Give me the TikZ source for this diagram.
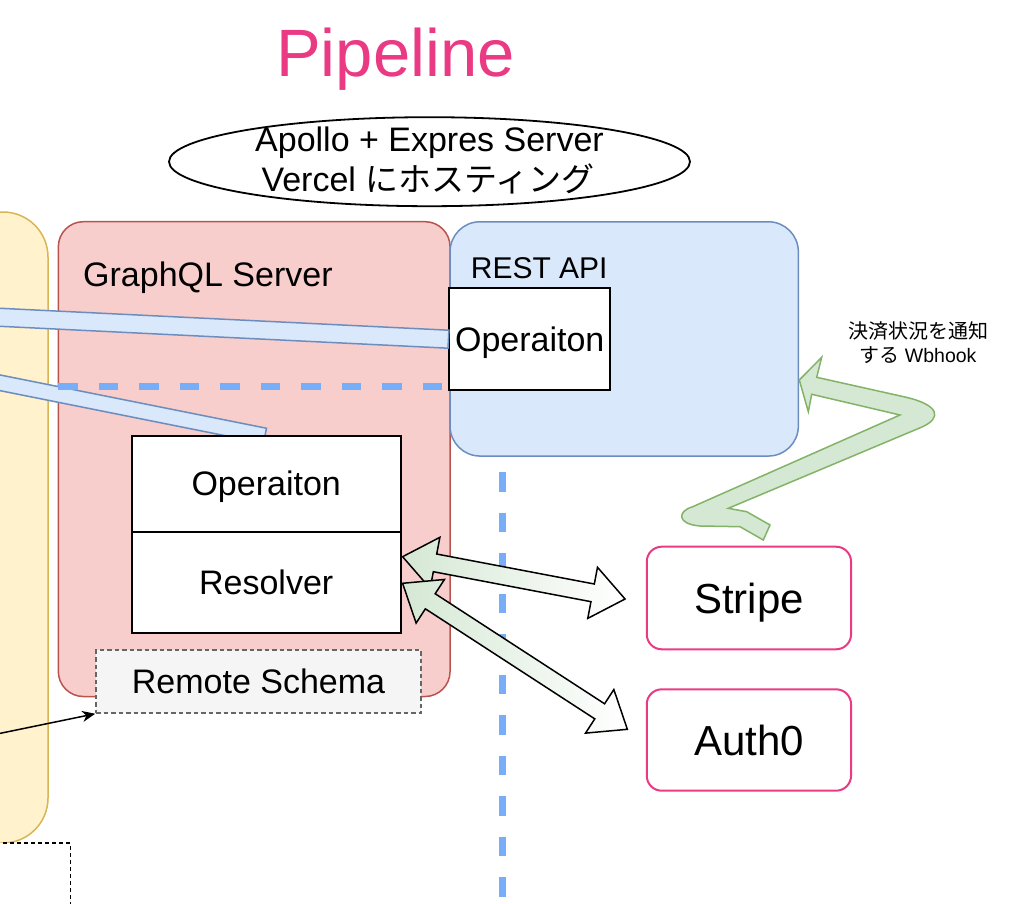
\documentclass[tikz,border=0pt]{standalone}
\usepackage{fontspec}
\setmainfont{Liberation Sans}
\newfontfamily\cjk{Noto Sans CJK JP}
\usetikzlibrary{calc,arrows.meta,shapes.geometric}
\definecolor{pinkT}{RGB}{234,58,132}
\definecolor{yelF}{HTML}{FFF2CC}
\definecolor{yelS}{HTML}{D6B656}
\definecolor{redF}{HTML}{F8CECC}
\definecolor{redS}{HTML}{B85450}
\definecolor{bluF}{HTML}{DAE8FC}
\definecolor{bluS}{HTML}{6C8EBF}
\definecolor{dashB}{RGB}{120,174,248}
\definecolor{grnF}{HTML}{D5E8D4}
\definecolor{grnS}{HTML}{82B366}
\definecolor{grayF}{HTML}{F5F5F5}
\definecolor{grayS}{HTML}{666666}
\newcommand\flatband[3]{%
  \filldraw[band] ($(#1)!#3!90:(#2)$) -- ($(#2)!#3!-90:(#1)$) -- ($(#2)!#3!90:(#1)$) -- ($(#1)!#3!-90:(#2)$) -- cycle;}
\newcommand\flatdbl[2]{%
  \coordinate (fa1) at ($(#1)!33pt!(#2)$);
  \coordinate (fb1) at ($(#2)!33pt!(#1)$);
  \path[dblarr] (#1) -- ($(fa1)!26pt!90:(#2)$) -- ($(fa1)!9pt!90:(#2)$) -- ($(fb1)!9pt!-90:(#1)$) -- ($(fb1)!26pt!-90:(#1)$) -- (#2) -- ($(fb1)!26pt!90:(#1)$) -- ($(fb1)!9pt!90:(#1)$) -- ($(fa1)!9pt!-90:(#2)$) -- ($(fa1)!26pt!-90:(#2)$) -- cycle;}
\begin{document}
\begin{tikzpicture}[x=1pt,y=-1pt,
  box/.style={draw=black, line width=1.8pt, fill=white, inner sep=0pt},
  cont/.style={draw, line width=1.5pt, inner sep=0pt},
  t33/.style={font=\fontsize{34}{40}\selectfont, text height=24.3pt, text depth=0pt},
  t41/.style={font=\fontsize{42}{48}\selectfont, text height=30.1pt, text depth=0pt},
  band/.style={draw=bluS, fill=bluF, line width=1.5pt},
  dblarr/.style={draw=black, line width=1.5pt, left color=grnF, right color=white},
  wh/.style={draw=grnS, fill=grnF, line width=1.5pt},
  dashln/.style={draw=dashB, line width=6.5pt, dash pattern=on 19.5pt off 21pt},
  svc/.style={draw=pinkT, line width=2pt, fill=white, rounded corners=15pt, inner sep=0pt, minimum width=204.3pt}
]
\useasboundingbox (0,0) rectangle (1014,904);
\clip (0,0) rectangle (1014,904);

% title
\node[anchor=base, text=pinkT, font=\fontsize{67}{72}\selectfont, inner sep=0pt] (title) at (395.5,77) {Pipeline};

% ellipse
\node[ellipse, draw=black, line width=1.8pt, minimum width=521pt, minimum height=89pt, inner sep=0pt] (ell) at (429.5,161.7) {};
\node[anchor=base, inner sep=0pt, font=\fontsize{34}{40}\selectfont] (ellt1) at (429.5,152) {Apollo + Expres Server};
\node[anchor=base, inner sep=0pt, font=\fontsize{34}{40}\selectfont] (ellt2) at (428,192) {Vercel {\cjk\fontsize{33}{40}\selectfont にホスティング}};

% containers
\node[cont, draw=yelS, fill=yelF, rounded corners=45pt, minimum width=108pt, minimum height=631pt] (yel) at (-6,527.5) {};
\node[draw=black, line width=1.8pt, dash pattern=on 4pt off 3pt, fill=white, inner sep=0pt, minimum width=120.5pt, minimum height=116.7pt] (dot) at (10.25,901.7) {};
\node[cont, draw=redS, fill=redF, rounded corners=25pt, minimum width=391.7pt, minimum height=474.8pt] (gql) at (254.2,459.1) {};
\node[cont, draw=bluS, fill=bluF, rounded corners=30pt, minimum width=348.3pt, minimum height=234.3pt] (rest) at (624.2,338.9) {};
\node[anchor=base west, inner sep=0pt, font=\fontsize{34}{40}\selectfont] (gqlt) at (83,286) {GraphQL Server};
\node[anchor=base west, inner sep=0pt, font=\fontsize{30}{36}\selectfont] (restt) at (470.7,278.3) {REST API};

% REST operation
\node[box, t33, minimum width=160.7pt, minimum height=101.7pt] (rop) at (529.7,339.2) {Operaiton};

% bands
\coordinate (s1) at (-10,316.8);
\flatband{s1}{rop.west}{9pt}
\coordinate (s2) at (-10,380.8);
\coordinate (e2) at (265,435.8);
\flatband{s2}{e2}{7.7pt}

% dashed lines
\coordinate (h1) at (58.3,386.7);
\coordinate (h2) at (449,386.7);
\draw[dashln] (h1) -- (h2);
\coordinate (v1) at (502.3,472);
\coordinate (v2) at (502.3,910);
\draw[dashln] (v1) -- (v2);

% GraphQL boxes
\node[box, t33, minimum width=269pt, minimum height=96pt] (gop) at (266.2,483.7) {Operaiton};
\node[box, t33, minimum width=269pt, minimum height=101pt] (res) at (266.2,582.2) {Resolver};
\node[draw=grayS, fill=grayF, line width=1.5pt, dash pattern=on 4.5pt off 3pt, inner sep=0pt, t33, minimum width=325pt, minimum height=63pt] (rs) at (258.5,681.5) {Remote Schema};

% external services
\node[svc, t41, minimum height=102.6pt] (stripe) at (748.9,598) {Stripe};
\node[svc, t41, minimum height=101.4pt] (auth) at (748.9,740) {Auth0};

% incoming arrow to remote schema
\coordinate (lin) at (-5,734.4);
\draw[line width=1.5pt, -{Stealth[length=13pt, width=11pt, inset=4pt]}] (lin) -- (rs.south west);

% double arrows
\coordinate (a1) at ($(res.east)+(1,-25.5)$);
\coordinate (b1) at ($(stripe.west)+(-20.7,1)$);
\coordinate (a2) at ($(res.east)+(1,1.1)$);
\coordinate (b2) at ($(auth.west)+(-18.4,-10.7)$);
\flatdbl{a1}{b1}
\flatdbl{a2}{b2}

% webhook arrow
\filldraw[wh] (799.3,380) -- (821.7,357.3) -- (816.7,377.3) -- (905,397) .. controls (940,405) and (942,418) .. (922,427) -- (728.3,508.3) -- (746.7,511.7) -- (770,525) -- (763.3,540) -- (740,526.7) -- (700,526) .. controls (676,524) and (678,511) .. (692,507) -- (900,415) -- (811.7,394.3) -- (808.3,411.7) -- cycle;
\node[align=center, inner sep=0pt, font=\fontsize{19.5}{24}\selectfont] (wht) at (918,343) {{\cjk\fontsize{20}{24}\selectfont 決済状況を通知}\\{\cjk\fontsize{20}{24}\selectfont する} Wbhook};
\end{tikzpicture}
\end{document}
